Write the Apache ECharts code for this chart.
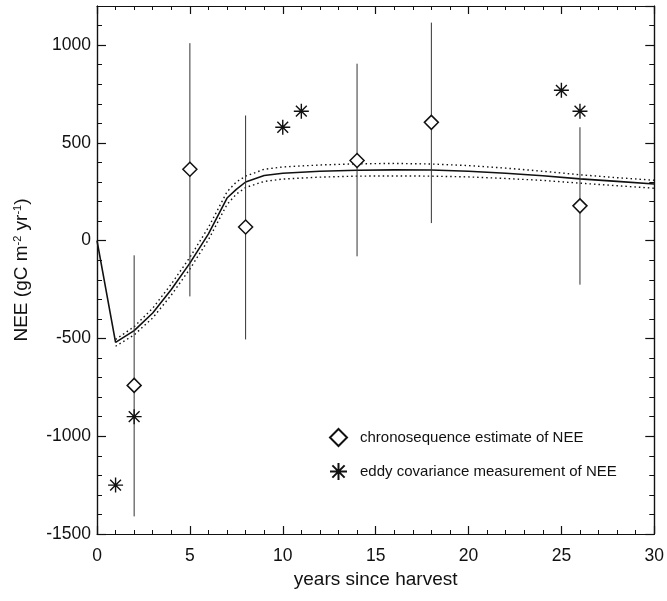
<!DOCTYPE html>
<html>
<head>
<meta charset="utf-8">
<script src="https://cdn.jsdelivr.net/npm/echarts@6/dist/echarts.min.js"></script>
<style>html,body{margin:0;padding:0;background:#fff;}#c{width:667px;height:601px;}</style>
</head>
<body>
<div id="c"></div>
<script>
// ---- data ----
const modelX = [0, 1, 2, 3, 4, 5, 6, 7, 7.5, 8, 9, 10, 12, 14, 16, 18, 20, 22, 24, 26, 28, 30];
const modelY = [0, -520, -460, -370, -250, -115, 35, 218, 262, 300, 333, 345, 355, 360, 362, 361, 355, 345, 332, 316, 303, 290];
const bandX  = [1, 2, 3, 4, 5, 6, 7, 7.5, 8, 9, 10, 12, 14, 16, 18, 20, 22, 24, 26, 28, 30];
const upperY = [-505, -440, -345, -222, -85, 68, 250, 300, 330, 365, 377, 387, 393, 395, 392, 384, 371, 355, 337, 322, 309];
const lowerY = [-540, -482, -395, -278, -145, 5, 185, 238, 272, 303, 315, 325, 330, 331, 330, 326, 318, 308, 294, 281, 268];

const chronoX  = [2, 5, 8, 14, 18, 26];
const chronoY  = [-740, 365, 70, 410, 605, 178];
const chronoLo = [-1410, -285, -505, -80, 90, -225];
const chronoHi = [-75, 1010, 640, 905, 1115, 580];

const eddyX = [1, 2, 10, 11, 25, 26];
const eddyY = [-1250, -900, 580, 662, 769, 662];

const xTicks = [0, 5, 10, 15, 20, 25, 30];
const yTicks = [-1500, -1000, -500, 0, 500, 1000];

const legendNames = ['chronosequence estimate of NEE', 'eddy covariance measurement of NEE'];

// ---- chart ----
const FONT = "'Liberation Sans', Arial, Helvetica, sans-serif";
const BLACK = '#111';
const zip = (a, b) => a.map((v, i) => [v, b[i]]);
const asterisk = 'path://M0,-1L0,1M-1,0L1,0M-0.72,-0.72L0.72,0.72M-0.72,0.72L0.72,-0.72';

function xAx(pos, showLabel) {
  return {
    type: 'value', position: pos, min: xTicks[0], max: xTicks[xTicks.length - 1], interval: 5,
    axisLine: { show: true, onZero: false, lineStyle: { color: BLACK, width: 1.2 } },
    axisTick: { show: true, inside: false, length: -8, lineStyle: { color: BLACK, width: 1.2 } },
    minorTick: { show: true, splitNumber: 5, length: -4, lineStyle: { color: BLACK, width: 1 } },
    splitLine: { show: false }, minorSplitLine: { show: false },
    axisLabel: { show: showLabel, fontSize: 17.5, color: BLACK, fontFamily: FONT, margin: 13,
                 formatter: v => String(v) },
    name: showLabel ? 'years since harvest' : '',
    nameLocation: 'middle', nameGap: 36,
    nameTextStyle: { fontSize: 19, color: BLACK, fontFamily: FONT }
  };
}
function yAx(pos, interval, tickLen, showLabel, withName) {
  return {
    type: 'value', position: pos, min: yTicks[0], max: 1200, interval: interval,
    axisLine: { show: true, onZero: false, lineStyle: { color: BLACK, width: 1.2 } },
    axisTick: { show: true, inside: false, length: -tickLen, lineStyle: { color: BLACK, width: interval === 500 ? 1.2 : 1 } },
    splitLine: { show: false },
    axisLabel: { show: showLabel, showMaxLabel: false, fontSize: 17.5, color: BLACK, fontFamily: FONT, margin: 6,
                 formatter: v => String(v) },
    name: withName ? 'NEE (gC m{sup|-2} yr{sup|-1})' : '',
    nameLocation: 'middle', nameGap: 66,
    nameTextStyle: {
      fontSize: 19, color: BLACK, fontFamily: FONT,
      rich: { sup: { fontSize: 11, verticalAlign: 'top', color: BLACK, fontFamily: FONT } }
    }
  };
}

const chart = echarts.init(document.getElementById('c'), null, { renderer: 'canvas' });
chart.setOption({
  animation: false,
  backgroundColor: '#fff',
  grid: { left: 97, right: 10, top: 6, bottom: 67, containLabel: false },
  xAxis: [xAx('bottom', true), xAx('top', false)],
  yAxis: [
    yAx('left', 500, 9, true, true),
    yAx('left', 100, 5, false, false),
    yAx('right', 500, 9, false, false),
    yAx('right', 100, 5, false, false)
  ],
  legend: {
    data: legendNames, orient: 'vertical', left: 324, top: 423,
    itemWidth: 17, itemHeight: 17, itemGap: 15,
    textStyle: { fontSize: 15, color: BLACK, fontFamily: FONT, padding: [0, 0, 0, 8] },
    selectedMode: false
  },
  series: [
    {
      type: 'line', name: 'model', data: zip(modelX, modelY), showSymbol: false, symbol: 'none',
      lineStyle: { color: BLACK, width: 1.6 }, z: 3
    },
    {
      type: 'line', name: 'upper', data: zip(bandX, upperY), showSymbol: false, symbol: 'none',
      lineStyle: { color: BLACK, width: 1.4, type: [1.5, 3] }, z: 3
    },
    {
      type: 'line', name: 'lower', data: zip(bandX, lowerY), showSymbol: false, symbol: 'none',
      lineStyle: { color: BLACK, width: 1.4, type: [1.5, 3] }, z: 3
    },
    {
      type: 'custom', name: 'errorbars',
      data: chronoX.map((x, i) => [x, chronoLo[i], chronoHi[i]]),
      encode: { x: 0, y: [1, 2] },
      renderItem: function (params, api) {
        const x = api.value(0);
        const p1 = api.coord([x, api.value(1)]);
        const p2 = api.coord([x, api.value(2)]);
        return { type: 'line', shape: { x1: p1[0], y1: p1[1], x2: p2[0], y2: p2[1] },
                 style: { stroke: '#333', lineWidth: 1 } };
      },
      z: 4
    },
    {
      type: 'scatter', name: legendNames[0], data: zip(chronoX, chronoY),
      symbol: 'diamond', symbolSize: 14,
      itemStyle: { color: '#fff', borderColor: BLACK, borderWidth: 1.5, opacity: 1 }, z: 5
    },
    {
      type: 'scatter', name: legendNames[1], data: zip(eddyX, eddyY),
      symbol: asterisk, symbolSize: 15,
      itemStyle: { color: 'rgba(0,0,0,0)', borderColor: BLACK, borderWidth: 1.4, opacity: 1 }, z: 5
    }
  ]
});
</script>
</body>
</html>
